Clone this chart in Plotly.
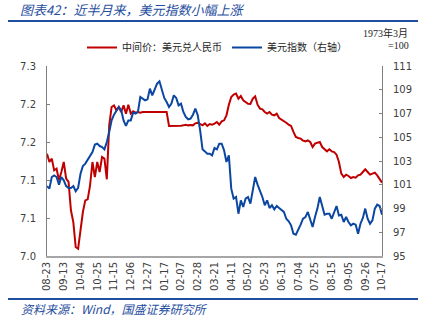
import pandas as pd
import plotly.graph_objects as go

# Sampling dates: every third calendar day, 2024-08-23 .. 2025-10-17
dates = pd.date_range("2024-08-23", periods=141, freq="3D")

# 中间价：美元兑人民币
cny_mid = [
    7.1346, 7.1237, 7.1281, 7.1127, 7.1149, 7.0996, 7.1105, 7.1237, 7.1018, 7.0974,
    7.0601, 7.0447, 7.0118, 7.0096, 7.0338, 7.0579, 7.0732, 7.0746, 7.0930, 7.1237,
    7.1039, 7.1237, 7.1105, 7.1303, 7.1281, 7.1009, 7.1719, 7.1961, 7.1982, 7.1917,
    7.1961, 7.1895, 7.1982, 7.1873, 7.1991,
    7.1873, 7.1904, 7.1886, 7.1895, 7.1886, 7.1895, 7.1895, 7.1891, 7.1895, 7.1900,
    7.1891, 7.1895, 7.1895, 7.1895, 7.1900, 7.1895,
    7.1711, 7.1711, 7.1706, 7.1711, 7.1711, 7.1715, 7.1719, 7.1728, 7.1719, 7.1724,
    7.1719,
    7.1746, 7.1754, 7.1737, 7.1719, 7.1746, 7.1711, 7.1737, 7.1728,
    7.1741, 7.1763, 7.1728, 7.1772, 7.1785, 7.1851, 7.1991, 7.2092, 7.2123, 7.2136,
    7.2070, 7.2105, 7.2048, 7.2026, 7.2004, 7.2000, 7.2070, 7.2101, 7.1991, 7.1939,
    7.1930, 7.1895, 7.1873, 7.1895, 7.1860, 7.1851, 7.1873, 7.1816, 7.1798, 7.1772,
    7.1754, 7.1728, 7.1711, 7.1632, 7.1566,
    7.1553, 7.1544, 7.1518, 7.1509, 7.1522, 7.1500, 7.1434, 7.1478, 7.1491, 7.1500,
    7.1434, 7.1404, 7.1377, 7.1404, 7.1377, 7.1368, 7.1333, 7.1237, 7.1083, 7.1039,
    7.1070, 7.1053, 7.1026, 7.1039, 7.1031, 7.1061, 7.1070, 7.1105, 7.1140, 7.1105,
    7.1070, 7.1083, 7.1096, 7.1061, 7.1018, 7.0965,
]

# 美元指数（右轴）
usd_index = [
    100.89, 100.67, 101.65, 101.79, 101.65, 101.01, 101.65, 101.37, 100.89, 100.73,
    100.73, 100.89, 100.45, 100.73, 101.93, 102.58, 102.78, 103.11, 103.34, 103.76,
    104.38, 104.46, 104.26, 104.18, 103.98, 104.60, 105.44, 106.42, 106.90, 107.27,
    107.55, 107.27, 106.42, 105.95, 106.42,
    106.42, 107.07, 106.99, 107.13, 108.39, 108.25, 108.11, 108.19, 109.09, 108.53,
    108.95, 109.51, 109.71, 109.09, 108.31, 107.97, 107.55, 107.83, 108.53, 108.31,
    107.69, 107.83, 107.13, 106.71, 106.51, 106.57, 106.90, 107.41, 106.85, 105.58,
    103.98, 103.81, 103.62, 103.62, 103.48,
    104.09, 103.98, 104.46, 104.46, 103.90, 102.92, 103.48, 100.67, 99.83, 99.97,
    98.56, 99.69, 99.13, 99.83, 99.97, 99.41, 100.53, 101.65, 101.01, 100.53,
    99.97, 99.27, 99.69, 99.04, 99.27, 98.93, 99.21, 99.04, 98.85, 98.71,
    98.14, 97.92, 97.58, 96.88, 96.80,
    97.16, 97.64, 98.14, 98.28, 98.71, 98.00, 97.44, 98.28, 98.99, 99.97,
    99.13, 98.48, 98.56, 98.56, 98.14, 98.71, 99.21, 98.42, 98.48, 97.86,
    98.28, 97.86, 97.58, 97.72, 97.64, 96.88, 97.72, 98.20, 98.99, 98.14,
    97.72, 98.00, 98.99, 99.32, 99.21, 98.48,
]

left_ticks = [7.00, 7.05, 7.10, 7.15, 7.20, 7.25]
left_labels = ["7.0", "7.1", "7.1", "7.2", "7.2", "7.3"]

RED = "#C00000"
BLUE = "#0B47A1"
TITLE_BLUE = "#1F4E9E"
AXIS_GREY = "#7F7F7F"
TICK_FONT = dict(family="DejaVu Sans", size=10, color="#404040")
CJK = "Noto Sans CJK SC"

W, H = 426, 328
L, R, T, B = 47, 44, 66, 72
PW, PH = W - L - R, H - T - B


def px(x):
    return (x - L) / PW


def py(y):
    return (H - B - y) / PH


fig = go.Figure()
fig.add_trace(go.Scatter(
    x=dates, y=cny_mid, name="中间价：美元兑人民币", mode="lines",
    line=dict(color=RED, width=2), yaxis="y",
))
fig.add_trace(go.Scatter(
    x=dates, y=usd_index, name="美元指数（右轴）", mode="lines",
    line=dict(color=BLUE, width=2), yaxis="y2",
))

fig.update_layout(
    width=W, height=H,
    margin=dict(l=L, r=R, t=T, b=B, pad=0),
    paper_bgcolor="white", plot_bgcolor="white",
    showlegend=True,
    legend=dict(
        orientation="h", x=px(82), y=py(33), xanchor="left", yanchor="top",
        font=dict(family=CJK, size=10, color="#262626"),
        bgcolor="rgba(0,0,0,0)", itemwidth=30, tracegroupgap=0,
    ),
    xaxis=dict(
        type="date", range=[dates[0], dates[-1]],
        tick0="2024-08-23", dtick=21 * 86400000, tickformat="%m-%d",
        tickangle=-90, ticks="", showgrid=False, zeroline=False,
        showline=True, linecolor="#A6A6A6", linewidth=2,
        tickfont=TICK_FONT,
    ),
    yaxis=dict(
        range=[7.0, 7.25], tickvals=left_ticks, ticktext=left_labels,
        ticks="inside", ticklen=3, tickcolor=AXIS_GREY,
        showline=True, linecolor=AXIS_GREY, linewidth=1,
        showgrid=False, zeroline=False, tickfont=TICK_FONT,
        ticklabelstandoff=8,
    ),
    yaxis2=dict(
        range=[95, 111], tick0=95, dtick=2, overlaying="y", side="right",
        ticks="inside", ticklen=3, tickcolor=AXIS_GREY,
        showline=True, linecolor=AXIS_GREY, linewidth=1,
        showgrid=False, zeroline=False, tickfont=TICK_FONT,
        ticklabelstandoff=8,
    ),
)

# Header and footer rules
for yy in (21, 299):
    fig.add_shape(type="line", xref="paper", yref="paper",
                  x0=px(8), x1=px(418), y0=py(yy), y1=py(yy),
                  line=dict(color=TITLE_BLUE, width=2))

fig.add_annotation(
    text="图表42：近半月来，美元指数小幅上涨", xref="paper", yref="paper",
    x=px(18), y=py(10), xanchor="left", yanchor="middle", showarrow=False,
    font=dict(family=CJK, size=13, color=TITLE_BLUE, style="italic"),
)
fig.add_annotation(
    text="资料来源：Wind，国盛证券研究所", xref="paper", yref="paper",
    x=px(19), y=py(308), xanchor="left", yanchor="middle", showarrow=False,
    font=dict(family=CJK, size=12, color=TITLE_BLUE, style="italic"),
)
fig.add_annotation(
    text="1973年3月", xref="paper", yref="paper",
    x=px(410), y=py(33), xanchor="right", yanchor="middle", showarrow=False,
    font=dict(family="Liberation Serif, " + CJK, size=10, color="#262626"),
)
fig.add_annotation(
    text="=100", xref="paper", yref="paper",
    x=px(411), y=py(46), xanchor="right", yanchor="middle", showarrow=False,
    font=dict(family="Liberation Serif", size=10, color="#262626"),
)

fig.write_html("out.html")
